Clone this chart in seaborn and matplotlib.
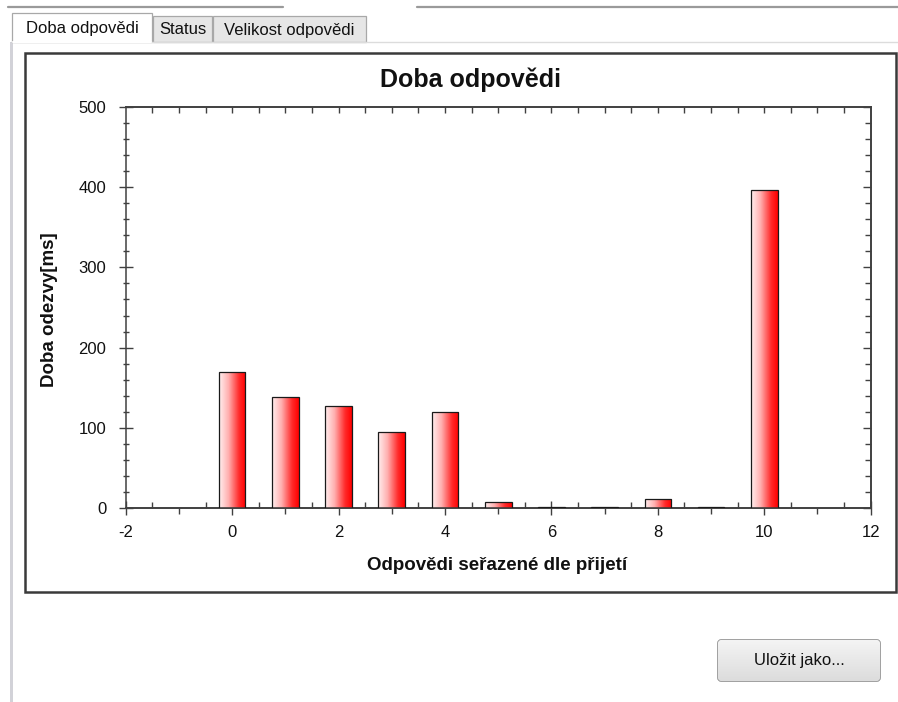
import numpy as np
import pandas as pd
import matplotlib
matplotlib.use("Agg")
import matplotlib.pyplot as plt
import seaborn as sns
from matplotlib.colors import LinearSegmentedColormap
from matplotlib.patches import Rectangle, FancyBboxPatch
from matplotlib.ticker import MultipleLocator, FixedLocator, NullFormatter

# Response times of individual requests, ordered by arrival
poradi = [0, 1, 2, 3, 4, 5, 6, 7, 8, 9, 10]
doba_ms = [170, 139, 127, 95, 120, 8, 2, 2, 12, 2, 396]

titulek = "Doba odpovědi"
popis_x = "Odpovědi seřazené dle přijetí"
popis_y = "Doba odezvy[ms]"
zalozky = ["Doba odpovědi", "Status", "Velikost odpovědi"]
tlacitko = "Uložit jako..."

sns.set_theme(style="white")
plt.rcParams["font.family"] = ["Liberation Sans", "DejaVu Sans"]
plt.rcParams["axes.unicode_minus"] = False

W, H = 898, 702
fig = plt.figure(figsize=(W / 100, H / 100), dpi=100)
fig.patch.set_facecolor("white")


def fx(px):
    return px / W


def fy(py):
    return 1 - py / H


# --- window chrome: tab strip, panel frame, button -------------------------
chrome = fig.add_axes([0, 0, 1, 1])
chrome.set_xlim(0, W)
chrome.set_ylim(H, 0)
chrome.axis("off")

# thin lines at the very top
chrome.plot([8, 283], [7, 7], color="#9a9a9a", lw=1.6)
chrome.plot([417, 898], [7, 7], color="#9a9a9a", lw=1.6)
# left border of the tab page
chrome.add_patch(Rectangle((10, 42), 3, 660, facecolor="#d2d2d8", edgecolor="none"))
chrome.plot([13, 898], [42, 42], color="#dcdcdc", lw=1)

tab_geo = [(12, 152, 13, True), (153, 212, 16, False), (213, 366, 16, False)]
for (x0, x1, top, active), label in zip(tab_geo, zalozky):
    chrome.add_patch(Rectangle((x0, top), x1 - x0, 42 - top,
                               facecolor="white" if active else "#e6e6e6",
                               edgecolor="#a8a8a8", lw=0.9))
    chrome.text((x0 + x1) / 2, (top + 42) / 2 + 1, label, ha="center", va="center",
                fontsize=12, color="#111111")
chrome.plot([13, 151], [42, 42], color="white", lw=1.5)

# panel frame around the chart
chrome.add_patch(Rectangle((25, 53), 871, 539, facecolor="white",
                           edgecolor="#3a3a3a", lw=1.8))

# save button
btn = FancyBboxPatch((718, 640), 162, 41, boxstyle="round,pad=0,rounding_size=3",
                     facecolor="#e9e9e9", edgecolor="#7a7a7a", lw=1.0)
chrome.add_patch(btn)
grad_btn = np.linspace(0, 1, 64).reshape(-1, 1)
btn_img = chrome.imshow(grad_btn, extent=[718, 880, 681, 640], aspect="auto",
                        cmap=LinearSegmentedColormap.from_list("b", ["#f4f4f4", "#dcdcdc"]),
                        zorder=2)
btn_img.set_clip_path(btn)
chrome.text(799, 661, tlacitko, ha="center", va="center", fontsize=12,
            color="#111111", zorder=3)

# --- chart -------------------------------------------------------------------
left, right, top, bottom = 125.7, 870.7, 106.7, 508.3
ax = fig.add_axes([fx(left), fy(bottom), fx(right - left), (bottom - top) / H])
ax.set_facecolor("white")

df = pd.DataFrame({"poradi": poradi, "doba": doba_ms})
sns.barplot(data=df, x="poradi", y="doba", native_scale=True, width=0.5,
            color="red", edgecolor="#1a1a1a", linewidth=0.9, ax=ax, zorder=3)

# white-to-red horizontal gradient inside each bar
bar_cmap = LinearSegmentedColormap.from_list(
    "bar", [(0.0, "#fff0f0"), (0.35, "#ffb0b0"), (0.75, "#ff2a2a"), (1.0, "#ff0000")])
grad = np.linspace(0, 1, 128).reshape(1, -1)
for p in list(ax.patches):
    x0, y0 = p.get_x(), p.get_y()
    w, h = p.get_width(), p.get_height()
    p.set_facecolor("none")
    img = ax.imshow(grad, extent=[x0, x0 + w, y0, y0 + h], aspect="auto",
                    cmap=bar_cmap, zorder=2, interpolation="bilinear")
    img.set_clip_path(p)

ax.set_xlim(-2, 12)
ax.set_ylim(0, 500)
ax.set_xlabel("")
ax.set_ylabel("")

spine_c = "#404040"
for s in ax.spines.values():
    s.set_visible(True)
    s.set_color(spine_c)
    s.set_linewidth(1.1)

# bottom axis: labelled ticks every 2, small inward ticks at halves
ax.xaxis.set_major_locator(MultipleLocator(2))
ax.xaxis.set_minor_locator(FixedLocator(np.arange(-1.5, 12, 1.0)))
ax.tick_params(axis="x", which="major", direction="inout", length=10, width=1.0,
               color=spine_c, labelsize=12, pad=7, labelcolor="#111111",
               bottom=True, top=False)
ax.tick_params(axis="x", which="minor", direction="in", length=4, width=1.0,
               color=spine_c, bottom=True, top=False)
# odd integers: short outward ticks
odd = ax.secondary_xaxis("bottom")
odd.set_xticks(np.arange(-1, 12, 2))
odd.xaxis.set_major_formatter(NullFormatter())
odd.tick_params(direction="out", length=4, width=1.0, color=spine_c)
odd.spines["bottom"].set_color(spine_c)

# top axis: inward ticks every half unit
topax = ax.secondary_xaxis("top")
topax.set_xticks(np.arange(-1.5, 12, 0.5))
topax.xaxis.set_major_formatter(NullFormatter())
topax.tick_params(direction="in", length=4, width=1.0, color=spine_c)
topax.spines["top"].set_color(spine_c)

# left axis
ax.yaxis.set_major_locator(MultipleLocator(100))
ax.yaxis.set_minor_locator(MultipleLocator(20))
ax.tick_params(axis="y", which="major", direction="inout", length=10, width=1.0,
               color=spine_c, labelsize=12, pad=9, labelcolor="#111111",
               left=True, right=False)
ax.tick_params(axis="y", which="minor", direction="inout", length=5, width=1.0,
               color=spine_c, left=True, right=False)

# right axis: inward ticks
rax = ax.secondary_yaxis("right")
rax.yaxis.set_major_locator(MultipleLocator(100))
rax.yaxis.set_minor_locator(MultipleLocator(20))
rax.yaxis.set_major_formatter(NullFormatter())
rax.tick_params(which="major", direction="in", length=6, width=1.0, color=spine_c)
rax.tick_params(which="minor", direction="in", length=4, width=1.0, color=spine_c)
rax.spines["right"].set_color(spine_c)

# titles
fig.text(fx(470), fy(80), titulek, ha="center", va="center", fontsize=18,
         fontweight="bold", color="#111111")
fig.text(fx(497), fy(566), popis_x, ha="center", va="center", fontsize=13.5,
         fontweight="bold", color="#111111")
fig.text(fx(50), fy(310), popis_y, ha="center", va="center", rotation=90,
         fontsize=13.5, fontweight="bold", color="#111111")

fig.savefig("out.png", dpi=100, facecolor="white")
